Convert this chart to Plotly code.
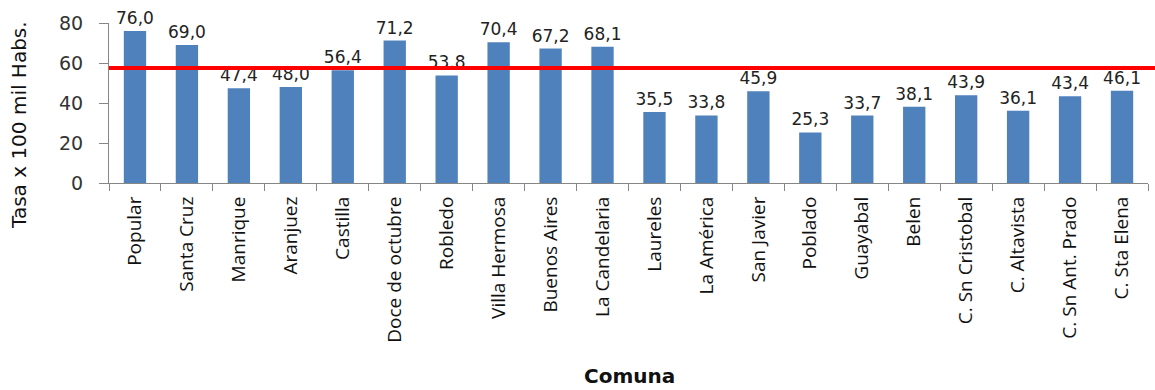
import plotly.graph_objects as go

comunas = ["Popular", "Santa Cruz", "Manrique", "Aranjuez", "Castilla", "Doce de octubre",
           "Robledo", "Villa Hermosa", "Buenos Aires", "La Candelaria", "Laureles",
           "La América", "San Javier", "Poblado", "Guayabal", "Belen", "C. Sn Cristobal",
           "C. Altavista", "C. Sn Ant. Prado", "C. Sta Elena"]
tasas = [76.0, 69.0, 47.4, 48.0, 56.4, 71.2, 53.8, 70.4, 67.2, 68.1, 35.5,
         33.8, 45.9, 25.3, 33.7, 38.1, 43.9, 36.1, 43.4, 46.1]
tasa_ciudad = 57.5
y_ticks = [0, 20, 40, 60, 80]

labels = [f"{v:.1f}".replace(".", ",") for v in tasas]

fig = go.Figure()
fig.add_trace(go.Bar(
    x=comunas, y=tasas, marker_color="#4F81BD", marker_line_width=0,
    text=labels, textposition="outside", cliponaxis=False, constraintext="none",
    textfont=dict(family="DejaVu Sans", size=17, color="#222222"),
    width=0.43,
))

fig.add_shape(type="line", xref="paper", yref="y", x0=0, x1=1.01,
              y0=tasa_ciudad, y1=tasa_ciudad,
              line=dict(color="#FF0000", width=4))

fig.update_layout(
    width=1155, height=390,
    margin=dict(l=109, r=7, t=23, b=207, autoexpand=False),
    paper_bgcolor="white", plot_bgcolor="white",
    showlegend=False,
    xaxis=dict(
        type="category", showline=True, linecolor="#868686", linewidth=1,
        ticks="outside", tickson="boundaries", ticklen=7, tickcolor="#868686",
        tickangle=-90, tickfont=dict(family="Open Sans", size=19, color="#111111"),
        showgrid=False, automargin=False, ticklabelstandoff=5,
    ),
    yaxis=dict(
        range=[0, 80], tickvals=y_ticks, showline=True, linecolor="#868686",
        linewidth=1, ticks="outside", ticklen=9, tickcolor="#868686",
        tickfont=dict(family="DejaVu Sans", size=19, color="#333333"),
        showgrid=False, zeroline=False, automargin=False, ticklabelstandoff=12,
    ),
    annotations=[
        dict(text="Tasa x 100 mil Habs.", xref="paper", yref="paper",
             x=(19 - 109) / 1039, y=(183 - 125) / 160, xanchor="center",
             yanchor="middle", textangle=-90, showarrow=False,
             font=dict(family="DejaVu Sans", size=20, color="#111111")),
        dict(text="<b>Comuna</b>", xref="paper", yref="paper",
             x=(629 - 109) / 1039, y=(183 - 376) / 160, xanchor="center",
             yanchor="middle", showarrow=False,
             font=dict(family="DejaVu Sans", size=20, color="#111111")),
    ],
)

fig.write_html("out.html")
